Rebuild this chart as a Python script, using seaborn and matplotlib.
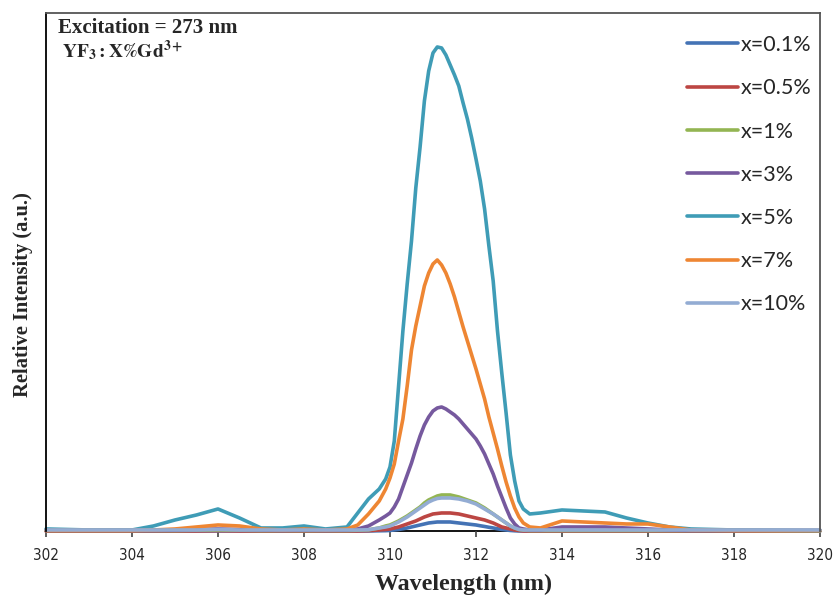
import numpy as np
import pandas as pd
import matplotlib
matplotlib.use("Agg")
import matplotlib.pyplot as plt
import seaborn as sns
from matplotlib.lines import Line2D

# ---------------- data ----------------
wavelength = [302, 303, 304, 304.5, 305, 305.5, 306, 306.5, 307, 307.5, 308, 308.5,
              309, 309.25, 309.5, 309.75, 309.9,
              310, 310.1, 310.2, 310.3, 310.4, 310.5, 310.6, 310.7, 310.8, 310.9,
              311, 311.1, 311.2, 311.3, 311.4, 311.5, 311.6, 311.7, 311.8, 311.9,
              312, 312.1, 312.2, 312.3, 312.4, 312.5, 312.6, 312.7, 312.8, 312.9,
              313, 313.1, 313.25, 313.5, 314, 314.5, 315, 315.5, 316, 316.5, 317,
              318, 319, 320]

x_0_1 = [0, 0, 0, 0, 0, 0, 0, 0, 0, 0, 0, 0, 0, 0, 0, 0.2, 0.3,
         0.5, 1, 1.5, 2.2, 3, 4, 5, 6, 7, 8,
         8.5, 9, 9, 9, 9, 8.5, 8, 7.5, 7, 6.5,
         6, 5.2, 4.5, 3.7, 3, 2.2, 1.5, 1, 0.5, 0.2,
         0, 0, 0, 0, 0, 0, 0, 0, 0, 0, 0, 0, 0, 0]
x_0_5 = [0, 0, 0, 0, 0, 0, 0.3, 0, 0, 0, 0, 0, 0, 0, 0.3, 1, 1.5,
         2, 3, 4, 5.5, 7, 8.5, 10, 12, 14, 15.5,
         17, 17.5, 18, 18, 18, 17.5, 17, 16, 15, 14,
         13, 12, 11, 9.5, 8, 6, 4, 3, 2, 1,
         0.5, 0, 0, 0, 0, 0, 0, 0, 0, 0, 0, 0, 0, 0]
x_1 = [0.5, 0.5, 0.5, 0.5, 0.5, 0.8, 1, 0.8, 0.5, 0.5, 0.5, 0.5, 0.5, 0.8, 1.2, 3, 5,
       6, 8, 10, 12.5, 15, 18, 21, 24, 28, 31,
       33, 35, 36, 36, 36, 35, 34, 32.5, 31, 29.5,
       28, 25.5, 23, 20, 17, 14, 11, 8, 5, 3,
       1.5, 1, 0.5, 0.5, 0.5, 0.5, 0.5, 0.5, 0.5, 0.5, 0.5, 0.5, 0.5, 0.5]
x_3 = [0.5, 0.5, 0.5, 0.5, 0.8, 1.5, 2, 1.5, 1, 0.5, 1, 0.5, 1, 2, 5, 11, 15,
       18, 24, 32, 44, 56, 68, 82, 95, 106, 114,
       120, 123, 124, 122, 119, 116, 112, 107, 102, 97,
       92, 85, 77, 67, 57, 45, 34, 23, 13, 7,
       3, 2, 1, 1, 4, 4, 4, 3, 2, 1, 0.5, 0.5, 0.5, 0.5]
x_5 = [2, 1, 1, 5, 11, 16, 22, 13, 3, 3, 5, 2, 4, 18, 32, 42, 52,
       64, 90, 145, 200, 247, 290, 343, 384, 430, 460,
       478, 484, 483, 476, 466, 456, 445, 428, 412, 393,
       372, 350, 322, 285, 250, 200, 158, 118, 76, 50,
       30, 22, 17, 18, 21, 20, 19, 13, 8, 4, 2, 1, 0.5, 0]
x_7 = [0.5, 0.5, 0.5, 1, 2, 4, 6, 5, 2, 1, 2, 1, 2, 6, 17, 30, 42,
       53, 67, 90, 112, 145, 181, 205, 225, 245, 258,
       267, 271, 266, 258, 247, 234, 219, 204, 190, 176,
       162, 147, 132, 114, 98, 82, 65, 49, 35, 23,
       14, 8, 4, 3, 10, 9, 8, 7, 7, 4, 1, 0.5, 0.3, 0.3]
x_10 = [1, 1, 1, 1, 1, 1, 1.5, 1, 1, 1, 1, 1, 1, 1, 1.2, 3, 4,
        5, 7, 9, 11.5, 14, 17, 20, 23, 26, 29,
        31, 32.5, 33, 33, 33, 32.5, 32, 31, 30, 28.5,
        27, 24.5, 22, 19.5, 17, 14, 11, 8, 5, 3,
        1.5, 1, 1, 1, 1, 1, 1, 1, 1, 1, 1, 1, 1, 1]

labels = ["x=0.1%", "x=0.5%", "x=1%", "x=3%", "x=5%", "x=7%", "x=10%"]
series = [x_0_1, x_0_5, x_1, x_3, x_5, x_7, x_10]
colors = ["#4473B5", "#BC4643", "#93B552", "#76599E", "#3F9CB6", "#EE8633", "#93ACD3"]

xticks = [302, 304, 306, 308, 310, 312, 314, 316, 318, 320]

# ---------------- build long table ----------------
frames = []
for lab, vals in zip(labels, series):
    assert len(vals) == len(wavelength), lab
    frames.append(pd.DataFrame({"Wavelength": wavelength, "Intensity": vals, "Sample": lab}))
df = pd.concat(frames, ignore_index=True)

sns.set_theme(style="white")
plt.rcParams["font.family"] = ["DejaVu Sans"]
plt.rcParams["mathtext.fontset"] = "stix"

fig = plt.figure(figsize=(8.35, 5.95), dpi=100)
ax = fig.add_axes([0.0551, 0.1076, 0.9269, 0.8706])

sns.lineplot(data=df, x="Wavelength", y="Intensity", hue="Sample",
             hue_order=labels, palette=colors, linewidth=2.6, ax=ax,
             legend=False, sort=False, clip_on=False)

ax.set_xlim(302, 320)
ax.set_ylim(0, 518)
ax.set_xticks(xticks)
ax.set_xticklabels([str(t) for t in xticks], family=["DejaVu Sans"],
                   fontstretch="condensed", fontsize=11)
ax.set_yticks([])
ax.tick_params(axis="x", direction="out", length=4, width=1.2, color="#444444",
               bottom=True, pad=8)

for side in ["left", "bottom", "top", "right"]:
    ax.spines[side].set_visible(True)
    ax.spines[side].set_linewidth(1.3)
ax.spines["left"].set_color("black")
ax.spines["bottom"].set_color("black")
ax.spines["top"].set_color("#555555")
ax.spines["right"].set_color("#555555")
ax.spines["bottom"].set_zorder(0.5)

ax.set_xlabel("Wavelength (nm)", family=["Liberation Serif"], fontweight="bold",
              fontsize=17.3)
ax.xaxis.set_label_coords(0.54, -0.083)
ax.set_ylabel("Relative Intensity (a.u.)", family=["Liberation Serif"], fontweight="bold",
              fontsize=14.8)
ax.yaxis.set_label_coords(-0.0165, 0.456)

ax.text(0.0155, 0.961, "Excitation = 273 nm", transform=ax.transAxes,
        family=["Liberation Serif"], fontweight="bold", fontsize=15,
        va="baseline", ha="left")
ax.text(0.021, 0.914, r"$\mathbf{YF_3{:}X\%Gd^{3+}}$", transform=ax.transAxes,
        fontsize=14, va="baseline", ha="left")

handles = [Line2D([0], [0], color=c, lw=2.6) for c in colors]
leg = ax.legend(handles, labels, loc="upper left",
                bbox_to_anchor=(687 / 835, 1 - 35 / 595), bbox_transform=fig.transFigure,
                frameon=False, borderpad=0, borderaxespad=0,
                handlelength=2.35, handletextpad=0.15, labelspacing=1.08,
                prop={"family": ["Lato", "DejaVu Sans"], "size": 15.5})

fig.savefig("out.png", dpi=100)
